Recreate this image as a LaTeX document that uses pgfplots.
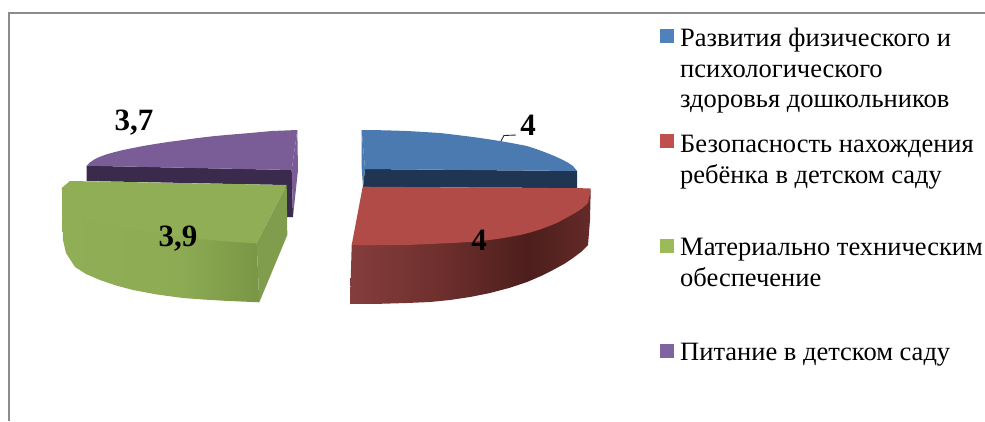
\documentclass[border=0pt]{standalone}
\usepackage{fontspec}
\setmainfont{Liberation Serif}
\usepackage{pgfplots}
\pgfplotsset{compat=1.18}
\definecolor{frameg}{HTML}{8C8C8C}
\definecolor{bluetop}{HTML}{4A7AB0}
\definecolor{blueside}{HTML}{1F3552}
\definecolor{redtop}{HTML}{B14B48}
\definecolor{greentop}{HTML}{90AE55}
\definecolor{greencut}{HTML}{7F9D4C}
\definecolor{purpletop}{HTML}{7A5D96}
\definecolor{purpleside}{HTML}{3A2A4C}
\definecolor{bluelg}{HTML}{4F81BD}
\definecolor{redlg}{HTML}{C0504D}
\definecolor{greenlg}{HTML}{9BBB59}
\definecolor{purplelg}{HTML}{8064A2}
\definecolor{rsa}{HTML}{843D3C}
\definecolor{rsb}{HTML}{6C2E2C}
\definecolor{rsc}{HTML}{4C1E1C}
\definecolor{rsd}{HTML}{642A28}
\definecolor{gsa}{HTML}{90AE55}
\definecolor{gsb}{HTML}{8DAB53}
\definecolor{gsc}{HTML}{799645}
\pgfdeclarehorizontalshading{redside}{100bp}{
  color(0bp)=(rsa); color(25bp)=(rsa); color(45bp)=(rsb); color(62bp)=(rsc); color(75bp)=(rsd); color(100bp)=(rsd)}
\pgfdeclarehorizontalshading{greenside}{100bp}{
  color(0bp)=(gsa); color(25bp)=(gsa); color(55bp)=(gsb); color(75bp)=(gsc); color(100bp)=(gsc)}
\newcommand{\lgtext}[3]{\node[anchor=base west,inner sep=0pt,font=\fontsize{26.5}{30}\selectfont,text=black] at (axis cs:#1,#2) {#3};}
\newcommand{\vallabel}[3]{\node[anchor=base,inner sep=0pt,font=\fontsize{31}{36}\selectfont\bfseries,text=black] at (axis cs:#1,#2) {#3};}
\begin{document}
\begin{tikzpicture}
\path[use as bounding box] (0,0) rectangle (985pt,421pt);
\begin{axis}[at={(0,0)},anchor=south west,scale only axis,width=985pt,height=421pt,
  xmin=0,xmax=985,ymin=0,ymax=421,y dir=reverse,hide axis,clip=false,
  every axis plot/.append style={forget plot}]
% frame
\addplot[frameg,line width=2pt] coordinates {(8.5,421) (8.5,13) (985,13)};
% purple slice
\addplot[fill=purpleside,draw=none] coordinates {(86.7,165.7) (291.7,170) (293,217) (285,217) (285,185) (86.7,181)} --cycle;
\addplot[fill=purpletop,draw=none] coordinates {(297.3,130) (272,131) (250,133) (232,134.5) (215,136) (198,138) (183.3,140) (168,142) (155,144) (143,146) (133,148) (123,150) (115,152) (107,154.2) (100,156.7) (95,159) (90.5,162) (86.7,165.7) (291.7,170)} --cycle;
\addplot[fill=purpletop,draw=none] coordinates {(297.3,130) (298,170) (293,216.7) (291.7,170)} --cycle;
% blue slice
\addplot[fill=blueside,draw=none] coordinates {(365,169) (577,171) (577,188) (363,187)} --cycle;
\addplot[fill=bluetop,draw=none] coordinates {(361.7,130) (385,130.3) (407,131) (424,132) (440,133) (457,135) (473,137) (487,139) (500,141) (514,143.5) (527,146) (537,149.3) (547,153) (555.5,156.5) (563,160) (568.5,163) (573,166) (577,171) (365,169)} --cycle;
\addplot[fill=bluetop,draw=none] coordinates {(361.7,130) (365,169) (363,187) (361.5,165)} --cycle;
% green slice
\addplot[shading=greenside,draw=none] coordinates {(62,188) (62,210) (63,240) (66,253) (75,267) (86,274) (100,280) (116,285.5) (133,290) (157,294.5) (183,298) (203,299.5) (223,300.7) (259.3,302.3) (256.7,243.3)} --cycle;
\addplot[fill=greentop,draw=none] coordinates {(286.7,185) (70,181) (61.7,188) (62.5,200) (66.7,206.7) (72,211) (80,215) (90,219.5) (100,223) (115,226) (130,228.5) (145,231) (160,233) (185,237) (210,240) (233,242) (256.7,243.3)} --cycle;
\addplot[fill=greencut,draw=none] coordinates {(286.7,185) (256.7,243.3) (259.3,302.3) (287.3,235)} --cycle;
% red slice
\addplot[shading=redside,draw=none] coordinates {(351.7,245) (350,304) (380,303.8) (407,303) (430,302) (450,300) (470,297) (490,293) (509,288) (527,282) (541,276) (553,270) (564,264) (573,258) (581,252) (588,245) (590,220) (590.7,190)} --cycle;
\addplot[fill=redtop,draw=none] coordinates {(362.7,186.7) (590.7,188.3) (589.5,196) (588,203) (582,208.5) (575,213) (566,218) (556.7,223) (548,226.5) (540,229.5) (530,232.5) (520,235) (508,237.2) (497,239) (485,240.5) (473,241.7) (456,242.8) (440,243.5) (423,244.3) (406.7,245) (351.7,245)} --cycle;
% leader
\addplot[black!85,line width=0.9pt] coordinates {(501,141) (504,135.5) (516,135)};
% legend swatches
\addplot[fill=bluelg,draw=none] coordinates {(660,29) (674,29) (674,43) (660,43)} --cycle;
\addplot[fill=redlg,draw=none] coordinates {(660,134) (674,134) (674,148) (660,148)} --cycle;
\addplot[fill=greenlg,draw=none] coordinates {(660,239) (674,239) (674,253) (660,253)} --cycle;
\addplot[fill=purplelg,draw=none] coordinates {(660,344) (674,344) (674,358) (660,358)} --cycle;
\lgtext{680}{46}{Развития физического и}
\lgtext{680}{77}{психологического}
\lgtext{680}{107}{здоровья дошкольников}
\lgtext{680}{152}{Безопасность нахождения}
\lgtext{680}{183}{ребёнка в детском саду}
\lgtext{680}{255}{Материально техническим}
\lgtext{680}{286}{обеспечение}
\lgtext{680}{360}{Питание в детском саду}
\vallabel{528}{135}{4}
\vallabel{479}{250}{4}
\vallabel{178}{246}{3,9}
\vallabel{134}{130}{3,7}
\end{axis}
\end{tikzpicture}
\end{document}
